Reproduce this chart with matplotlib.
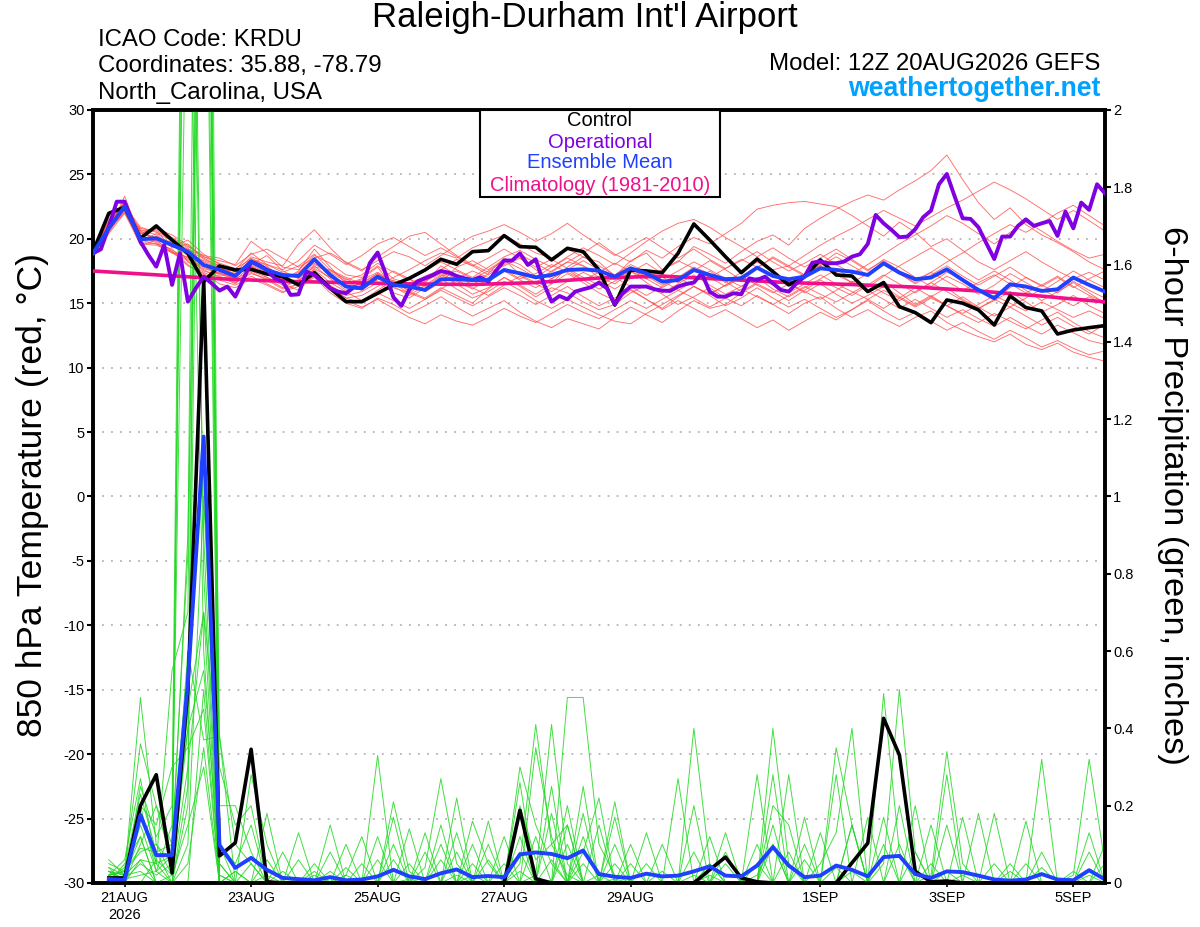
import numpy as np
import matplotlib.pyplot as plt
from matplotlib.patches import Rectangle

plt.rcParams['font.family'] = ['Liberation Sans', 'DejaVu Sans']
plt.rcParams['axes.unicode_minus'] = False

# forecast steps: every 6 hours from 12Z 20AUG2026 (step 0) to 12Z 5SEP2026 (step 64)
steps = np.arange(65)
# operational run is drawn with 3-hourly output
op_steps = np.arange(129) / 2
date_steps = [2, 10, 18, 26, 34, 46, 54, 62]
date_labels = ['21AUG\n2026', '23AUG', '25AUG', '27AUG', '29AUG', '1SEP', '3SEP', '5SEP']

# 850 hPa temperature (C)
control_temp = [19.0, 21.98, 22.45, 20.04, 21.0, 19.9, 18.87, 16.68, 17.89,
                17.58, 17.63, 17.27, 17.06, 16.42, 17.37, 16.16, 15.12,
                15.12, 15.77, 16.42, 16.93, 17.58, 18.41, 18.02, 19.0,
                19.08, 20.25, 19.39, 19.34, 18.36, 19.26, 19.0, 17.58,
                14.86, 17.58, 17.5, 17.37, 18.87, 21.15, 19.91, 18.61,
                17.37, 18.43, 17.45, 16.42, 17.06, 18.36, 17.19, 17.11,
                15.9, 16.6, 14.73, 14.27, 13.49, 15.25, 15.0, 14.48,
                13.31, 15.56, 14.66, 14.4, 12.61, 12.92, 13.1, 13.26]

oper_temp = [18.87, 19.19, 20.94, 22.88, 22.88, 21.33, 19.78, 18.75, 17.84, 19.52,
             16.42, 18.87, 15.12, 16.16, 17.06, 16.55, 15.98, 16.29, 15.51, 16.8,
             18.23, 17.97, 17.58, 16.93, 16.68, 15.64, 15.69, 17.45, 17.19, 16.68,
             16.16, 15.9, 15.77, 16.24, 16.16, 18.1, 18.93, 17.32, 15.46, 14.79,
             16.03, 16.68, 16.93, 17.19, 17.5, 17.37, 17.11, 16.93, 16.8, 17.01,
             16.68, 17.53, 18.31, 18.31, 18.87, 17.97, 18.41, 16.55, 15.12, 15.56,
             15.3, 15.9, 16.08, 16.24, 16.6, 16.16, 14.9, 15.77, 16.29, 16.29,
             16.29, 16.08, 15.98, 15.95, 16.29, 16.49, 16.6, 17.32, 15.9, 15.51,
             15.51, 15.77, 15.69, 16.93, 16.8, 17.06, 16.55, 16.03, 15.9, 16.55,
             17.06, 18.15, 18.23, 18.1, 18.1, 18.23, 18.61, 18.8, 19.6, 21.85,
             21.2, 20.69, 20.12, 20.17, 20.74, 21.67, 22.19, 24.23, 25.03, 23.27,
             21.59, 21.54, 20.89, 19.65, 18.43, 20.17, 20.17, 21.0, 21.51, 21.0,
             21.2, 21.38, 20.22, 22.11, 20.81, 22.81, 22.24, 24.23, 23.53]

mean_temp = [18.87, 20.82, 22.5, 19.96, 20.04, 19.52, 19.0, 17.97, 17.58,
             17.11, 18.23, 17.58, 17.19, 17.11, 18.41, 17.19, 16.29,
             16.16, 17.06, 16.42, 16.29, 16.03, 16.86, 16.86, 16.8,
             16.8, 17.58, 17.32, 17.01, 17.19, 17.58, 17.63, 17.53,
             17.05, 17.71, 17.32, 16.67, 16.8, 17.58, 17.19, 16.86,
             16.93, 17.76, 17.11, 16.86, 17.06, 17.71, 17.58, 17.45,
             17.19, 18.1, 17.37, 16.86, 16.99, 17.63, 16.8, 16.03,
             15.38, 16.47, 16.29, 15.95, 16.08, 16.99, 16.42, 15.9]

clim_steps = [0, 4, 8, 12, 16, 20, 24, 28, 32, 36, 40, 44, 48, 52, 56, 60, 64]
clim_temp = [17.5, 17.2, 16.9, 16.7, 16.6, 16.5, 16.45, 16.6, 16.95, 17.1,
             16.85, 16.6, 16.45, 16.25, 15.95, 15.55, 15.1]

members_temp = [
    [18.7, 20.9, 22.8, 20.5, 19.9, 19.8, 18.8, 17.9, 17.2, 17.0, 18.5, 17.9, 16.8, 17.5, 19.2, 17.8, 16.5,
     16.9, 17.8, 16.2, 15.8, 16.6, 17.9, 17.2, 16.4, 17.3, 18.5, 18.0, 17.1, 16.5, 17.8, 18.6, 18.2,
     17.1, 18.3, 18.9, 17.6, 18.2, 19.4, 18.8, 18.1, 19.0, 19.8, 20.3, 19.5, 20.8, 21.6, 22.3, 22.9,
     23.4, 23.0, 23.8, 24.5, 25.3, 26.5, 24.6, 22.8, 21.5, 22.4, 21.1, 20.3, 19.7, 19.0, 18.2, 17.6],
    [18.9, 21.4, 22.2, 20.8, 20.6, 19.3, 19.6, 18.4, 17.9, 17.6, 18.0, 18.7, 17.5, 16.9, 18.0, 17.5, 16.9,
     16.3, 16.8, 17.5, 16.9, 15.9, 16.6, 17.8, 18.3, 17.6, 18.4, 17.2, 16.6, 17.5, 18.2, 18.9, 19.7,
     18.8, 18.2, 19.1, 18.5, 19.4, 20.1, 19.6, 20.4, 21.2, 22.3, 22.6, 22.8, 22.9, 22.7, 22.5, 21.8,
     21.0, 20.2, 21.3, 20.5, 19.4, 20.0, 19.1, 18.2, 17.6, 18.3, 19.0, 18.2, 17.5, 16.9, 17.4, 16.8],
    [18.6, 20.6, 23.3, 20.1, 19.8, 19.1, 18.5, 17.6, 17.0, 16.6, 17.3, 16.9, 16.2, 16.8, 17.6, 16.6, 15.9,
     15.2, 16.0, 16.8, 15.9, 15.4, 16.2, 15.6, 15.0, 16.1, 17.0, 16.3, 15.5, 16.2, 15.8, 15.1, 14.5,
     14.9, 15.8, 16.4, 15.7, 14.9, 15.5, 16.2, 15.4, 14.8, 15.6, 14.9, 14.2, 15.0, 15.5, 14.6, 13.9,
     14.5, 13.8, 13.2, 13.9, 14.4, 13.5, 12.9, 12.4, 12.0, 12.6, 11.8, 11.4, 11.9, 11.2, 10.8, 10.5],
    [18.8, 20.7, 22.0, 19.8, 20.4, 19.9, 18.2, 17.4, 16.8, 16.4, 17.1, 16.5, 15.9, 16.3, 17.0, 15.8, 15.0,
     14.6, 15.4, 14.9, 14.2, 14.8, 15.5, 14.7, 14.0, 14.6, 15.2, 14.3, 13.6, 13.1, 13.8, 13.4, 13.0,
     13.9, 14.7, 14.1, 13.5, 14.4, 15.2, 14.6, 14.9, 15.8, 16.5, 15.9, 15.2, 16.0, 16.8, 16.2, 15.6,
     16.4, 17.2, 16.5, 15.8, 16.6, 17.4, 16.9, 16.1, 15.3, 16.2, 17.0, 16.4, 15.8, 16.7, 16.0, 15.4],
    [18.9, 21.2, 22.9, 20.0, 20.8, 20.3, 19.5, 18.6, 18.3, 18.0, 19.8, 18.9, 17.8, 17.6, 18.7, 18.1, 17.2,
     17.0, 17.9, 16.9, 16.5, 17.1, 17.6, 18.4, 17.9, 17.2, 18.0, 18.8, 18.1, 17.4, 18.2, 17.9, 17.0,
     16.5, 17.4, 18.1, 17.3, 16.6, 17.5, 18.3, 17.6, 16.8, 17.7, 18.6, 17.9, 17.2, 18.0, 18.9, 18.3,
     17.5, 18.4, 17.8, 17.0, 16.3, 17.1, 16.5, 15.7, 16.4, 17.3, 16.6, 15.9, 16.7, 17.5, 16.8, 16.2],
    [18.7, 21.0, 22.4, 20.6, 20.0, 19.4, 19.9, 18.8, 18.0, 17.4, 18.6, 18.2, 17.9, 19.6, 20.7, 19.3, 18.1,
     17.5, 18.6, 19.4, 20.2, 20.5, 19.6, 18.7, 18.0, 17.4, 17.9, 18.5, 17.6, 16.9, 17.6, 16.8, 16.1,
     16.7, 17.5, 16.6, 15.8, 16.5, 17.2, 16.4, 15.7, 16.3, 17.0, 16.1, 15.5, 16.2, 16.9, 17.6, 17.0,
     16.2, 17.1, 17.9, 18.6, 19.3, 18.5, 17.6, 16.8, 17.5, 16.8, 16.0, 15.2, 15.9, 16.6, 15.8, 15.0],
    [18.8, 20.5, 22.3, 19.6, 19.5, 19.0, 18.4, 17.8, 17.3, 16.8, 17.9, 17.0, 16.5, 16.0, 17.2, 16.4, 15.6,
     15.9, 16.6, 15.8, 15.4, 16.2, 16.9, 16.1, 15.4, 15.9, 16.7, 16.0, 15.2, 14.6, 15.3, 14.7, 14.1,
     13.6, 13.4, 14.2, 14.9, 15.6, 16.3, 15.7, 16.4, 17.1, 17.8, 17.2, 16.5, 17.3, 18.1, 17.4, 16.6,
     15.9, 16.7, 15.8, 14.9, 15.6, 14.8, 14.1, 13.5, 14.2, 13.6, 13.0, 13.7, 14.3, 13.5, 12.8, 12.3],
    [18.9, 21.5, 22.6, 20.9, 20.5, 20.1, 19.4, 18.7, 18.5, 17.9, 18.8, 19.2, 18.5, 17.8, 18.5, 18.9, 18.2,
     17.6, 18.3, 19.0, 18.6, 17.9, 18.7, 19.5, 20.2, 20.6, 21.1, 20.5, 19.8, 20.4, 21.2, 20.3, 19.5,
     18.7, 19.4, 20.1, 19.3, 18.5, 19.2, 18.4, 17.7, 18.3, 19.0, 18.2, 17.5, 18.1, 18.8, 18.0, 17.3,
     18.0, 18.8, 19.6, 20.3, 21.0, 21.8, 21.2, 20.4, 19.6, 20.5, 21.3, 20.6, 19.8, 19.1, 18.5, 18.8],
    [18.7, 20.8, 22.1, 19.9, 19.6, 19.2, 18.0, 17.1, 17.4, 16.9, 17.5, 17.0, 16.4, 16.7, 17.9, 16.9, 16.0,
     16.6, 17.3, 16.5, 15.8, 15.3, 16.1, 16.8, 16.2, 15.6, 16.4, 17.1, 16.5, 15.9, 16.7, 17.4, 16.8,
     16.1, 16.9, 17.6, 16.8, 16.0, 16.7, 17.5, 16.7, 15.9, 16.6, 17.4, 16.6, 15.8, 16.5, 15.7, 15.0,
     15.6, 16.3, 15.5, 14.8, 15.5, 16.2, 15.3, 14.6, 15.2, 15.9, 15.1, 14.3, 14.9, 15.6, 14.8, 14.2],
    [18.8, 21.1, 22.7, 20.4, 20.1, 19.7, 19.1, 18.2, 17.7, 17.3, 18.3, 17.7, 17.0, 17.3, 18.1, 17.4, 16.7,
     16.4, 17.2, 16.6, 16.9, 16.3, 17.1, 17.5, 16.9, 17.5, 18.3, 17.7, 17.0, 17.8, 18.5, 17.9, 17.3,
     16.8, 17.6, 17.1, 16.4, 17.0, 17.8, 17.3, 16.6, 17.4, 18.2, 17.6, 17.9, 18.7, 19.5, 20.2, 20.8,
     21.5, 22.2, 21.6, 21.0, 21.7, 22.4, 23.0, 23.7, 24.4, 23.8, 23.1, 22.3, 21.5, 22.2, 21.4, 20.6],
    [18.6, 20.9, 22.5, 20.2, 19.7, 18.9, 18.6, 17.5, 17.1, 16.5, 17.8, 17.3, 16.8, 17.4, 18.5, 17.1, 16.4,
     16.0, 16.9, 16.3, 15.6, 16.4, 17.2, 16.5, 15.7, 16.2, 17.0, 16.4, 15.7, 16.5, 17.3, 16.6, 15.8,
     15.2, 16.0, 15.3, 14.6, 15.5, 16.3, 15.6, 14.8, 15.4, 16.2, 15.4, 14.7, 15.3, 14.6, 13.9, 14.5,
     15.2, 14.4, 13.7, 14.3, 13.6, 12.9, 13.5, 12.8, 12.2, 12.9, 12.3, 11.6, 12.1, 11.5, 11.0, 11.3],
    [18.9, 20.9, 22.3, 20.7, 20.3, 19.5, 18.9, 18.3, 17.8, 17.2, 18.0, 17.5, 17.3, 17.0, 17.8, 17.6, 16.8,
     17.2, 18.1, 17.4, 16.8, 17.5, 18.2, 17.6, 17.0, 17.8, 18.6, 19.1, 18.4, 17.8, 18.6, 19.3, 18.7,
     18.0, 18.9, 19.8, 20.6, 21.2, 21.5, 20.9, 20.1, 19.4, 18.6, 19.3, 18.5, 17.8, 18.5, 19.2, 18.4,
     17.6, 18.3, 17.5, 16.8, 17.4, 16.7, 16.0, 16.6, 17.2, 16.5, 15.8, 16.4, 17.1, 16.3, 15.6, 15.1],
    [18.7, 20.4, 22.0, 19.5, 19.9, 19.0, 17.9, 17.3, 16.5, 16.2, 16.9, 16.4, 15.8, 16.6, 17.3, 16.2, 15.4,
     15.0, 15.8, 15.2, 14.6, 15.3, 16.0, 15.4, 14.8, 15.5, 16.2, 15.6, 14.9, 15.6, 16.3, 15.5, 14.8,
     15.4, 16.1, 15.3, 14.5, 15.2, 14.6, 13.9, 14.5, 13.8, 13.1, 13.7, 12.9, 13.6, 14.3, 13.7, 14.5,
     15.3, 14.6, 15.4, 16.2, 15.5, 14.8, 15.5, 14.7, 14.0, 14.7, 14.0, 13.3, 13.9, 13.2, 12.6, 13.4],
    [18.8, 21.3, 22.9, 20.4, 20.9, 20.0, 19.3, 18.0, 17.6, 17.5, 17.9, 17.4, 17.1, 16.6, 17.5, 16.3, 15.4,
     15.6, 16.3, 17.0, 17.6, 18.3, 18.9, 18.5, 19.3, 19.8, 20.3, 19.6, 18.9, 18.5, 19.2, 18.6, 17.9,
     17.2, 18.0, 17.4, 16.8, 17.5, 18.2, 17.6, 16.9, 16.3, 17.0, 16.4, 15.8, 16.5, 17.2, 16.5, 15.9,
     15.3, 16.0, 15.4, 14.7, 15.4, 14.8, 14.2, 14.9, 15.6, 15.0, 14.4, 15.1, 14.5, 13.9, 14.4, 13.8],
    [18.6, 20.7, 22.4, 20.0, 20.2, 19.5, 18.7, 17.7, 17.3, 17.1, 18.3, 17.8, 16.9, 16.4, 17.7, 17.0, 16.5,
     16.8, 17.4, 16.7, 16.1, 16.8, 17.4, 16.9, 17.5, 17.0, 17.6, 16.9, 17.3, 18.0, 17.4, 16.8, 17.4,
     18.1, 17.5, 16.9, 17.6, 18.3, 17.7, 17.0, 17.7, 18.4, 17.8, 17.1, 16.5, 17.2, 17.9, 17.2, 16.6,
     17.3, 18.0, 17.3, 16.6, 17.4, 18.2, 18.9, 19.7, 20.4, 21.1, 20.5, 21.2, 22.0, 22.6, 21.8, 21.0],
    [18.8, 20.6, 22.2, 19.7, 19.6, 18.9, 18.3, 17.2, 16.9, 16.7, 17.4, 16.8, 16.1, 16.5, 17.1, 16.0, 15.2,
     14.7, 15.3, 14.6, 13.9, 13.4, 14.1, 13.6, 13.3, 13.9, 14.6, 14.0, 13.5, 14.2, 14.9, 14.3, 13.8,
     14.5, 15.2, 14.6, 15.3, 16.0, 15.4, 14.7, 15.4, 16.1, 15.5, 14.9, 15.6, 16.3, 15.7, 15.1, 15.8,
     16.5, 15.8, 15.2, 15.9, 16.6, 15.9, 15.2, 14.6, 15.3, 14.7, 15.4, 16.1, 15.4, 14.8, 15.5, 14.9],
    [18.9, 21.0, 22.7, 20.1, 20.0, 19.6, 19.0, 18.5, 17.9, 17.6, 18.9, 18.0, 17.4, 17.9, 18.8, 17.6, 17.0,
     16.5, 17.3, 16.6, 16.0, 16.7, 17.3, 16.7, 16.1, 16.9, 17.5, 16.8, 16.2, 16.9, 17.6, 18.3, 17.6,
     16.9, 17.7, 16.9, 16.2, 16.9, 17.7, 17.0, 16.3, 17.0, 17.8, 18.5, 17.8, 17.1, 17.9, 18.6, 17.9,
     17.2, 18.0, 17.3, 16.5, 17.2, 17.9, 17.1, 16.4, 17.1, 17.8, 17.0, 16.3, 17.0, 16.2, 16.9, 17.5],
    [18.7, 21.2, 22.8, 20.6, 20.7, 19.8, 19.2, 18.6, 18.1, 17.7, 18.4, 18.0, 17.6, 18.3, 19.5, 18.8, 18.0,
     18.7, 19.6, 20.1, 19.4, 18.7, 19.3, 18.6, 17.9, 18.5, 19.2, 18.5, 17.8, 18.4, 17.7, 17.0, 16.4,
     17.0, 16.3, 15.6, 16.3, 17.0, 16.3, 15.7, 16.4, 17.1, 16.4, 15.8, 16.5, 15.9, 15.3, 16.0, 16.7,
     16.0, 15.3, 14.6, 15.3, 14.6, 13.9, 14.5, 13.8, 13.2, 13.9, 13.2, 12.6, 13.3, 12.7, 12.1, 11.8],
]

# 6-hour precipitation (inches), steps 1..64
control_precip = [0.013, 0.013, 0.2, 0.28, 0.026, 0.5, 1.56, 0.07,
                  0.104, 0.346, 0.003, 0, 0, 0, 0, 0,
                  0, 0, 0, 0, 0, 0, 0, 0,
                  0, 0, 0.188, 0.011, 0, 0, 0, 0,
                  0, 0, 0, 0, 0, 0, 0.034, 0.067,
                  0.013, 0.003, 0, 0, 0, 0, 0, 0.052,
                  0.103, 0.426, 0.331, 0.03, 0.003, 0.005, 0, 0,
                  0, 0, 0, 0, 0, 0, 0, 0]

mean_precip = [0.01, 0.008, 0.176, 0.072, 0.072, 0.52, 1.155, 0.098,
               0.039, 0.065, 0.034, 0.013, 0.01, 0.007, 0.015, 0.007,
               0.009, 0.017, 0.034, 0.017, 0.01, 0.025, 0.035, 0.015,
               0.018, 0.015, 0.074, 0.079, 0.075, 0.064, 0.084, 0.023,
               0.016, 0.013, 0.024, 0.017, 0.019, 0.03, 0.043, 0.019,
               0.017, 0.045, 0.093, 0.045, 0.015, 0.019, 0.045, 0.034,
               0.017, 0.067, 0.07, 0.023, 0.013, 0.03, 0.028, 0.019,
               0.009, 0.006, 0.009, 0.023, 0.009, 0.007, 0.033, 0.009]

members_precip = [
    [0.03, 0.02, 0.48, 0.10, 0.05, 3.50, 4.50, 0.02, 0, 0.05, 0, 0, 0.01, 0, 0.03, 0,
     0, 0.06, 0, 0.01, 0, 0, 0.02, 0, 0, 0, 0.05, 0.41, 0.10, 0.02, 0, 0,
     0.01, 0, 0, 0.03, 0, 0.40, 0.05, 0, 0, 0.02, 0.10, 0, 0, 0, 0.04, 0,
     0, 0.49, 0.08, 0, 0, 0.03, 0, 0, 0, 0, 0.05, 0, 0, 0, 0.02, 0],
    [0.05, 0.03, 0.36, 0.20, 0.10, 2.60, 0.60, 0, 0.03, 0, 0.02, 0, 0, 0.05, 0, 0.01,
     0, 0, 0.21, 0.03, 0, 0, 0, 0.02, 0, 0, 0, 0.02, 0.41, 0.05, 0, 0.02,
     0, 0, 0.05, 0, 0, 0, 0.02, 0, 0, 0, 0.40, 0.05, 0, 0, 0, 0.03,
     0, 0.05, 0.50, 0.08, 0, 0, 0.02, 0, 0, 0.03, 0, 0, 0, 0.02, 0.32, 0.05],
    [0.02, 0.06, 0.27, 0.05, 0.55, 0.70, 4.00, 0.05, 0, 0, 0, 0.03, 0, 0, 0, 0.02,
     0.12, 0, 0, 0, 0.04, 0.27, 0.05, 0, 0, 0, 0.03, 0, 0, 0.48, 0.48, 0.10,
     0.02, 0, 0, 0, 0, 0.02, 0, 0.05, 0, 0, 0, 0, 0, 0.05, 0.13, 0.40,
     0, 0, 0, 0, 0.02, 0.34, 0.05, 0, 0, 0, 0, 0.08, 0, 0, 0, 0],
    [0.04, 0, 0.25, 0.12, 0.20, 4.00, 3.50, 0.38, 0.10, 0.05, 0, 0, 0, 0.02, 0, 0,
     0, 0.12, 0, 0, 0, 0, 0, 0.16, 0.05, 0, 0.30, 0.15, 0.05, 0, 0, 0,
     0, 0, 0, 0.10, 0, 0, 0, 0, 0, 0, 0.28, 0, 0, 0, 0.35, 0.15,
     0, 0, 0, 0, 0, 0, 0, 0.18, 0, 0, 0, 0, 0, 0, 0.13, 0],
    [0.01, 0.04, 0.23, 0.08, 0.10, 0.85, 5.00, 0.20, 0.20, 0.08, 0, 0, 0.13, 0, 0, 0,
     0, 0, 0.17, 0, 0, 0, 0.22, 0, 0, 0, 0, 0.35, 0.12, 0, 0, 0,
     0.21, 0, 0, 0, 0.27, 0, 0, 0, 0, 0, 0, 0.28, 0, 0, 0, 0,
     0.17, 0, 0.20, 0, 0, 0, 0.17, 0, 0, 0, 0, 0.32, 0, 0, 0, 0],
    [0.03, 0.01, 0.20, 0.15, 0.30, 0.35, 0.45, 0, 0, 0.28, 0.10, 0, 0, 0, 0.15, 0,
     0, 0, 0, 0.14, 0, 0, 0, 0, 0.16, 0, 0, 0, 0.25, 0, 0.25, 0,
     0, 0, 0.13, 0, 0, 0.20, 0, 0, 0, 0.28, 0, 0, 0, 0, 0, 0,
     0, 0, 0, 0.20, 0, 0, 0, 0, 0.18, 0, 0, 0, 0, 0, 0, 0.10],
    [0.02, 0.03, 0.18, 0.05, 0.07, 0.40, 3.80, 0.02, 0, 0, 0, 0, 0, 0, 0, 0.10,
     0, 0.33, 0, 0, 0.13, 0, 0, 0, 0, 0, 0, 0, 0, 0, 0, 0,
     0.17, 0, 0, 0, 0, 0, 0, 0, 0, 0.10, 0, 0, 0, 0, 0, 0.15,
     0, 0.17, 0, 0, 0, 0.15, 0, 0, 0, 0, 0.16, 0, 0, 0, 0, 0],
    [0.06, 0.02, 0.15, 0.03, 0.15, 3.20, 0.90, 0, 0, 0, 0.18, 0, 0, 0, 0, 0,
     0, 0, 0, 0, 0, 0.15, 0, 0, 0, 0.12, 0, 0, 0, 0.20, 0, 0,
     0, 0.10, 0, 0, 0, 0, 0.12, 0, 0, 0, 0, 0, 0.10, 0, 0, 0,
     0, 0, 0.10, 0, 0, 0, 0, 0, 0.05, 0, 0, 0, 0, 0, 0, 0],
    [0, 0.05, 0.12, 0, 0.02, 0.30, 0.70, 0.30, 0.15, 0.20, 0, 0, 0, 0, 0, 0,
     0.05, 0, 0.10, 0, 0, 0, 0, 0, 0.10, 0, 0, 0, 0, 0, 0, 0,
     0, 0, 0, 0, 0, 0, 0, 0.13, 0, 0, 0.20, 0.15, 0, 0, 0, 0,
     0, 0, 0, 0, 0, 0, 0, 0, 0, 0, 0, 0, 0, 0, 0.08, 0],
    [0.03, 0, 0.10, 0.20, 0.05, 0.60, 0.37, 0.38, 0, 0, 0, 0.08, 0, 0, 0.08, 0,
     0, 0, 0, 0, 0, 0, 0, 0, 0, 0, 0.26, 0, 0, 0.15, 0, 0,
     0, 0, 0, 0, 0, 0, 0, 0, 0, 0, 0, 0, 0, 0, 0, 0,
     0, 0, 0, 0, 0, 0, 0, 0, 0, 0.05, 0, 0, 0, 0, 0, 0],
    [0.02, 0.03, 0.08, 0.10, 0.02, 0.40, 0.55, 0.05, 0, 0, 0.06, 0, 0.06, 0, 0, 0.04,
     0, 0, 0, 0.05, 0, 0, 0.13, 0, 0, 0, 0, 0, 0.18, 0, 0.12, 0,
     0, 0.05, 0, 0, 0, 0, 0, 0, 0, 0, 0, 0, 0, 0, 0, 0,
     0, 0, 0, 0, 0, 0, 0, 0, 0, 0, 0, 0, 0, 0, 0, 0],
    [0.04, 0.02, 0.06, 0.05, 0, 0.25, 4.20, 0.10, 0.05, 0.15, 0, 0, 0, 0, 0, 0,
     0, 0, 0, 0, 0, 0, 0, 0, 0, 0, 0, 0, 0, 0, 0, 0,
     0.10, 0, 0, 0, 0, 0.08, 0, 0, 0, 0, 0, 0.08, 0, 0, 0, 0,
     0, 0, 0, 0, 0.05, 0, 0, 0, 0, 0, 0, 0, 0, 0, 0, 0],
    [0.01, 0, 0.20, 0.03, 0.07, 0.90, 3.00, 0, 0, 0, 0, 0, 0, 0.03, 0, 0,
     0, 0, 0.06, 0, 0, 0, 0, 0.10, 0, 0, 0.12, 0, 0, 0, 0.08, 0.22,
     0, 0, 0, 0, 0, 0, 0.05, 0, 0, 0, 0.15, 0, 0.17, 0, 0, 0,
     0, 0.10, 0, 0, 0, 0, 0, 0, 0, 0, 0, 0, 0, 0, 0, 0.05],
    [0.02, 0.03, 0.09, 0.08, 0, 0.45, 0.70, 0, 0.03, 0, 0, 0, 0, 0, 0, 0,
     0, 0, 0, 0, 0.08, 0, 0, 0, 0.06, 0, 0.20, 0.06, 0.10, 0.15, 0, 0,
     0, 0, 0, 0, 0, 0, 0, 0, 0, 0, 0, 0, 0, 0, 0.28, 0,
     0, 0, 0, 0, 0, 0.28, 0, 0, 0, 0, 0, 0, 0, 0, 0, 0],
    [0, 0.01, 0.05, 0.02, 0.05, 3.80, 0.80, 0, 0, 0, 0, 0, 0, 0, 0, 0,
     0, 0, 0, 0, 0, 0.06, 0, 0.05, 0, 0.05, 0, 0, 0.06, 0, 0, 0.15,
     0, 0, 0, 0, 0, 0, 0, 0, 0, 0, 0.10, 0, 0, 0.13, 0, 0,
     0, 0, 0, 0.08, 0, 0, 0, 0, 0, 0, 0, 0.04, 0, 0, 0, 0],
    [0.03, 0.02, 0.03, 0, 0, 0.20, 3.30, 0, 0, 0, 0, 0, 0, 0, 0, 0,
     0, 0, 0, 0, 0, 0, 0.08, 0, 0, 0, 0.08, 0, 0, 0, 0.18, 0,
     0, 0, 0, 0, 0, 0, 0, 0, 0, 0, 0, 0, 0, 0, 0, 0,
     0, 0, 0, 0, 0.15, 0, 0, 0, 0, 0, 0, 0, 0, 0, 0, 0],
    [0.01, 0, 0, 0.06, 0.02, 0.15, 0.30, 0, 0, 0, 0, 0, 0, 0, 0, 0.02,
     0, 0, 0, 0, 0, 0, 0, 0, 0, 0, 0, 0, 0, 0, 0.05, 0,
     0, 0, 0, 0, 0, 0, 0, 0.08, 0, 0, 0, 0, 0, 0, 0, 0,
     0, 0, 0, 0, 0, 0, 0, 0, 0, 0, 0, 0, 0, 0.03, 0, 0],
    [0, 0.02, 0.12, 0, 0, 0.10, 1.00, 0.10, 0, 0, 0, 0, 0, 0, 0, 0,
     0, 0, 0, 0, 0, 0.10, 0, 0, 0, 0, 0, 0, 0, 0, 0, 0,
     0.05, 0, 0, 0, 0, 0, 0, 0, 0, 0.05, 0, 0, 0, 0, 0, 0.15,
     0, 0, 0, 0, 0, 0, 0, 0, 0, 0, 0, 0, 0, 0, 0, 0],
    [0.02, 0, 0.06, 0, 0, 0.05, 0.35, 0, 0, 0, 0, 0, 0, 0, 0, 0,
     0, 0, 0, 0, 0, 0, 0, 0, 0, 0, 0, 0.12, 0, 0.10, 0, 0,
     0, 0, 0, 0, 0, 0, 0, 0, 0, 0, 0, 0, 0.06, 0, 0, 0,
     0, 0, 0, 0, 0, 0, 0, 0, 0, 0, 0, 0, 0, 0, 0, 0],
    [0.01, 0.01, 0.02, 0.03, 0, 0, 0.50, 0, 0, 0, 0, 0, 0, 0, 0, 0,
     0, 0, 0, 0, 0, 0, 0, 0, 0, 0, 0, 0, 0, 0, 0, 0,
     0, 0, 0, 0, 0, 0, 0, 0, 0, 0, 0, 0, 0, 0, 0, 0,
     0, 0, 0, 0, 0, 0, 0, 0, 0, 0, 0, 0, 0, 0, 0, 0],
]

# figure and the three axes: ensemble temps, precip (right axis), main temp lines on top
fig = plt.figure(figsize=(12, 9.27), dpi=100)
ax = fig.add_axes([0.0775, 0.0475, 0.8433, 0.8339])
axp = ax.twinx()
axt = ax.twinx()

for y in range(-25, 30, 5):
    ax.axhline(y, color='#b4b4b4', lw=1.3, ls=(0, (1, 4)), zorder=0)

for m in members_temp:
    ax.plot(steps, m, color='#ff4a4a', lw=0.65, alpha=0.8)

for m in members_precip:
    axp.plot(steps[1:], m, color='#22d822', lw=0.7, alpha=0.85)
axp.plot(steps[1:], control_precip, color='black', lw=2.6)
axp.plot(steps[1:], mean_precip, color='#2040ff', lw=2.8)

axt.plot(clim_steps, clim_temp, color='#f0108a', lw=2.6)
axt.plot(steps, control_temp, color='black', lw=2.6)
axt.plot(op_steps, oper_temp, color='#7f00e0', lw=2.8)
axt.plot(steps, mean_temp, color='#2040ff', lw=2.8)

ax.set_xlim(0, 64)
ax.set_ylim(-30, 30)
axt.set_ylim(-30, 30)
axp.set_ylim(0, 2)
axt.axis('off')

ax.set_yticks(range(-30, 31, 5))
ax.set_xticks(date_steps, date_labels)
axp.set_yticks(np.arange(0, 2.01, 0.2), ['0', '0.2', '0.4', '0.6', '0.8', '1', '1.2', '1.4', '1.6', '1.8', '2'])
ax.tick_params(axis='y', direction='out', length=4, width=1.5, labelsize=10.5, pad=2)
ax.tick_params(axis='x', direction='out', length=3, width=1.2, labelsize=10.5, pad=3)
axp.tick_params(axis='y', direction='out', length=4, width=1.5, labelsize=10.5, pad=2)
for a in (ax, axp):
    for s in a.spines.values():
        s.set_linewidth(2.6)

# header texts
fig.text(0.4875, 0.9806, "Raleigh-Durham Int'l Airport", ha='center', va='center', fontsize=25)
fig.text(0.0817, 0.9568, 'ICAO Code: KRDU', ha='left', va='center', fontsize=17.3)
fig.text(0.0817, 0.9288, 'Coordinates: 35.88, -78.79', ha='left', va='center', fontsize=17.3)
fig.text(0.0817, 0.8997, 'North_Carolina, USA', ha='left', va='center', fontsize=17.3)
fig.text(0.9167, 0.931, 'Model: 12Z 20AUG2026 GEFS', ha='right', va='center', fontsize=17.3)
fig.text(0.9167, 0.904, 'weathertogether.net', ha='right', va='center', fontsize=19.2,
         fontweight='bold', color='#00a2ff')

# axis titles
fig.text(0.0267, 0.466, '850 hPa Temperature (red, \u00b0C)', rotation=90, ha='center', va='center', fontsize=25.5)
fig.text(0.9767, 0.466, '6-hour Precipitation (green, inches)', rotation=270, ha='center', va='center', fontsize=24.8)

# legend box
fig.add_artist(Rectangle((0.4, 0.7875), 0.2, 0.0938, transform=fig.transFigure,
                         facecolor='white', edgecolor='black', lw=1.5))
fig.text(0.5, 0.8695, 'Control', ha='center', va='center', fontsize=14.5, color='black')
fig.text(0.5, 0.8468, 'Operational', ha='center', va='center', fontsize=14.5, color='#7f00e0')
fig.text(0.5, 0.8242, 'Ensemble Mean', ha='center', va='center', fontsize=14.5, color='#2040ff')
fig.text(0.5, 0.8004, 'Climatology (1981-2010)', ha='center', va='center', fontsize=14.5, color='#f0108a')

fig.savefig('out.png', dpi=100)
